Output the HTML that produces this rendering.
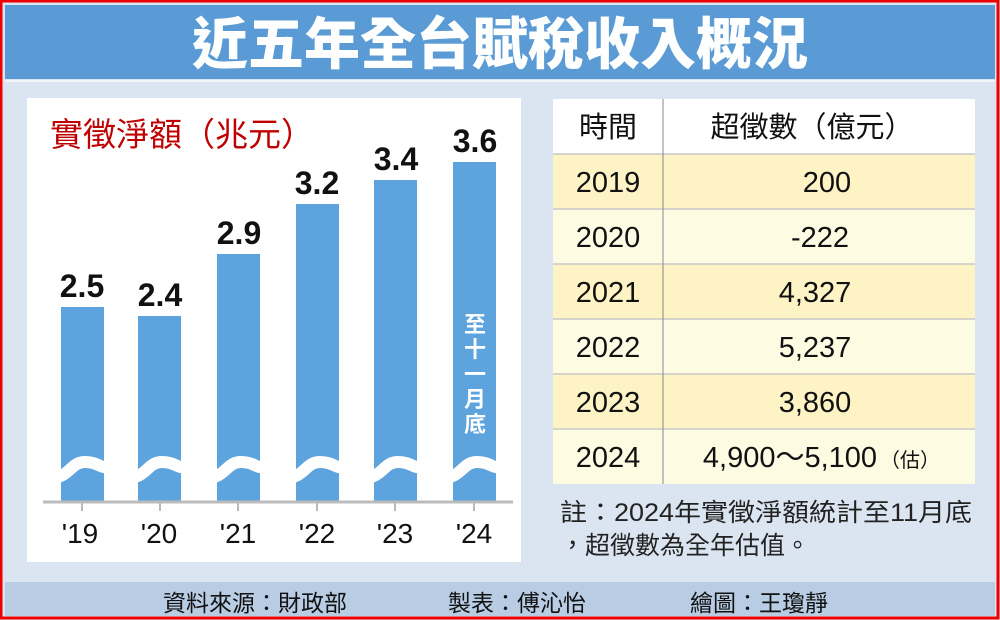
<!DOCTYPE html>
<html><head><meta charset="utf-8"><style>
body{margin:0;width:1000px;height:620px;overflow:hidden;background:#fff;font-family:"Liberation Sans","Noto Sans CJK TC",sans-serif;}
.a{position:absolute}
</style></head><body>
<div class="a" style="left:0;top:0;width:1000px;height:620px;background:#dbe5f1;"></div>
<div class="a" style="left:5px;top:5px;width:990px;height:74px;background:#5b9bd5;color:#fff;font-family:'Noto Sans CJK TC',sans-serif;font-weight:900;font-size:56px;line-height:72px;text-align:center;">近五年全台賦稅收入概況</div>
<div class="a" style="left:5px;top:80px;width:990px;height:2px;background:#fff;opacity:.6"></div>
<div class="a" style="left:27px;top:98px;width:494px;height:464px;background:#fff;"></div>
<div class="a" style="left:50px;top:112px;color:#c00000;font-size:33px;font-family:'Noto Sans CJK TC',sans-serif;line-height:40px;">實徵淨額（兆元）</div>
<svg class="a" style="left:0;top:0" width="1000" height="620">
<g fill="#5da3dd">
<rect x="61" y="307" width="43" height="195"/>
<rect x="138" y="316" width="43" height="186"/>
<rect x="217" y="254" width="43" height="248"/>
<rect x="296" y="204" width="43" height="298"/>
<rect x="374" y="180" width="43" height="322"/>
<rect x="453" y="162" width="43" height="340"/>
</g>
<g fill="none" stroke="#fff" stroke-width="12">
<path d="M50 478 C70 478,70 462,85 462 S100 470,110 466"/>
<path d="M127 478 C147 478,147 462,162 462 S177 470,187 466"/>
<path d="M206 478 C226 478,226 462,241 462 S256 470,266 466"/>
<path d="M285 478 C305 478,305 462,320 462 S335 470,345 466"/>
<path d="M363 478 C383 478,383 462,398 462 S413 470,423 466"/>
<path d="M442 478 C462 478,462 462,477 462 S492 470,502 466"/>
</g>
<line x1="43" y1="502" x2="513" y2="502" stroke="#bbb" stroke-width="3"/>
<g stroke="#bbb" stroke-width="2">
<line x1="82" y1="503" x2="82" y2="511"/><line x1="160" y1="503" x2="160" y2="511"/><line x1="238" y1="503" x2="238" y2="511"/><line x1="317" y1="503" x2="317" y2="511"/><line x1="395" y1="503" x2="395" y2="511"/><line x1="474" y1="503" x2="474" y2="511"/>
</g>
<g font-family="Liberation Sans" font-size="28" text-anchor="middle" fill="#111">
<text x="80" y="543">'19</text><text x="159" y="543">'20</text><text x="238" y="543">'21</text><text x="317" y="543">'22</text><text x="395" y="543">'23</text><text x="474" y="543">'24</text>
</g>
<g font-family="Liberation Sans" font-weight="bold" font-size="32" text-anchor="middle" fill="#111">
<text x="82" y="297">2.5</text><text x="160" y="306">2.4</text><text x="239" y="244">2.9</text><text x="317" y="194">3.2</text><text x="396" y="170">3.4</text><text x="475" y="152">3.6</text>
</g>
<g font-family="Noto Sans CJK TC" font-weight="bold" font-size="22" text-anchor="middle" fill="#fff">
<text x="475" y="332">至</text><text x="475" y="357">十</text><text x="475" y="382">一</text><text x="475" y="407">月</text><text x="475" y="432">底</text>
</g>
<rect x="553" y="99" width="422" height="55" fill="#fff"/>
<rect x="553" y="154" width="422" height="55" fill="#fdf3c4"/>
<rect x="553" y="209" width="422" height="55" fill="#fefbe3"/>
<rect x="553" y="264" width="422" height="55" fill="#fdf3c4"/>
<rect x="553" y="319" width="422" height="55" fill="#fefbe3"/>
<rect x="553" y="374" width="422" height="55" fill="#fdf3c4"/>
<rect x="553" y="429" width="422" height="55" fill="#fefbe3"/>
<g stroke="#c8c8c8" stroke-width="1.5">
<line x1="553" y1="154" x2="975" y2="154"/><line x1="553" y1="209" x2="975" y2="209"/><line x1="553" y1="264" x2="975" y2="264"/><line x1="553" y1="319" x2="975" y2="319"/><line x1="553" y1="374" x2="975" y2="374"/><line x1="553" y1="429" x2="975" y2="429"/>
</g>
<line x1="663" y1="99" x2="663" y2="484" stroke="#888" stroke-width="1"/>
<g font-family="Liberation Sans,Noto Sans CJK TC" font-size="29" text-anchor="middle" fill="#111">
<text x="608" y="137">時間</text><text x="812" y="137">超徵數（億元）</text>
<text x="608" y="192">2019</text><text x="827" y="192">200</text>
<text x="608" y="247">2020</text><text x="820" y="247">-222</text>
<text x="608" y="302">2021</text><text x="815" y="302">4,327</text>
<text x="608" y="357">2022</text><text x="815" y="357">5,237</text>
<text x="608" y="412">2023</text><text x="815" y="412">3,860</text>
<text x="608" y="467">2024</text><text x="790" y="467">4,900～5,100</text>
</g>
<text x="910" y="467" font-family="Noto Sans CJK TC" font-size="20" text-anchor="middle" fill="#111">（估）</text>
<g font-family="Liberation Sans,Noto Sans CJK TC" font-size="25" fill="#222">
<text x="560" y="521" textLength="412" lengthAdjust="spacingAndGlyphs">註：2024年實徵淨額統計至11月底</text>
<text x="560" y="554">，超徵數為全年估值。</text>
</g>
<rect x="5" y="582" width="990" height="34" fill="#b8cce4"/>
<g font-family="Noto Sans CJK TC" font-size="23" fill="#111">
<text x="163" y="611">資料來源：財政部</text><text x="448" y="611">製表：傅沁怡</text><text x="690" y="611">繪圖：王瓊靜</text>
</g>
<rect x="1" y="1" width="997" height="617" fill="none" stroke="#e00" stroke-width="3"/>
</svg>
</body></html>
